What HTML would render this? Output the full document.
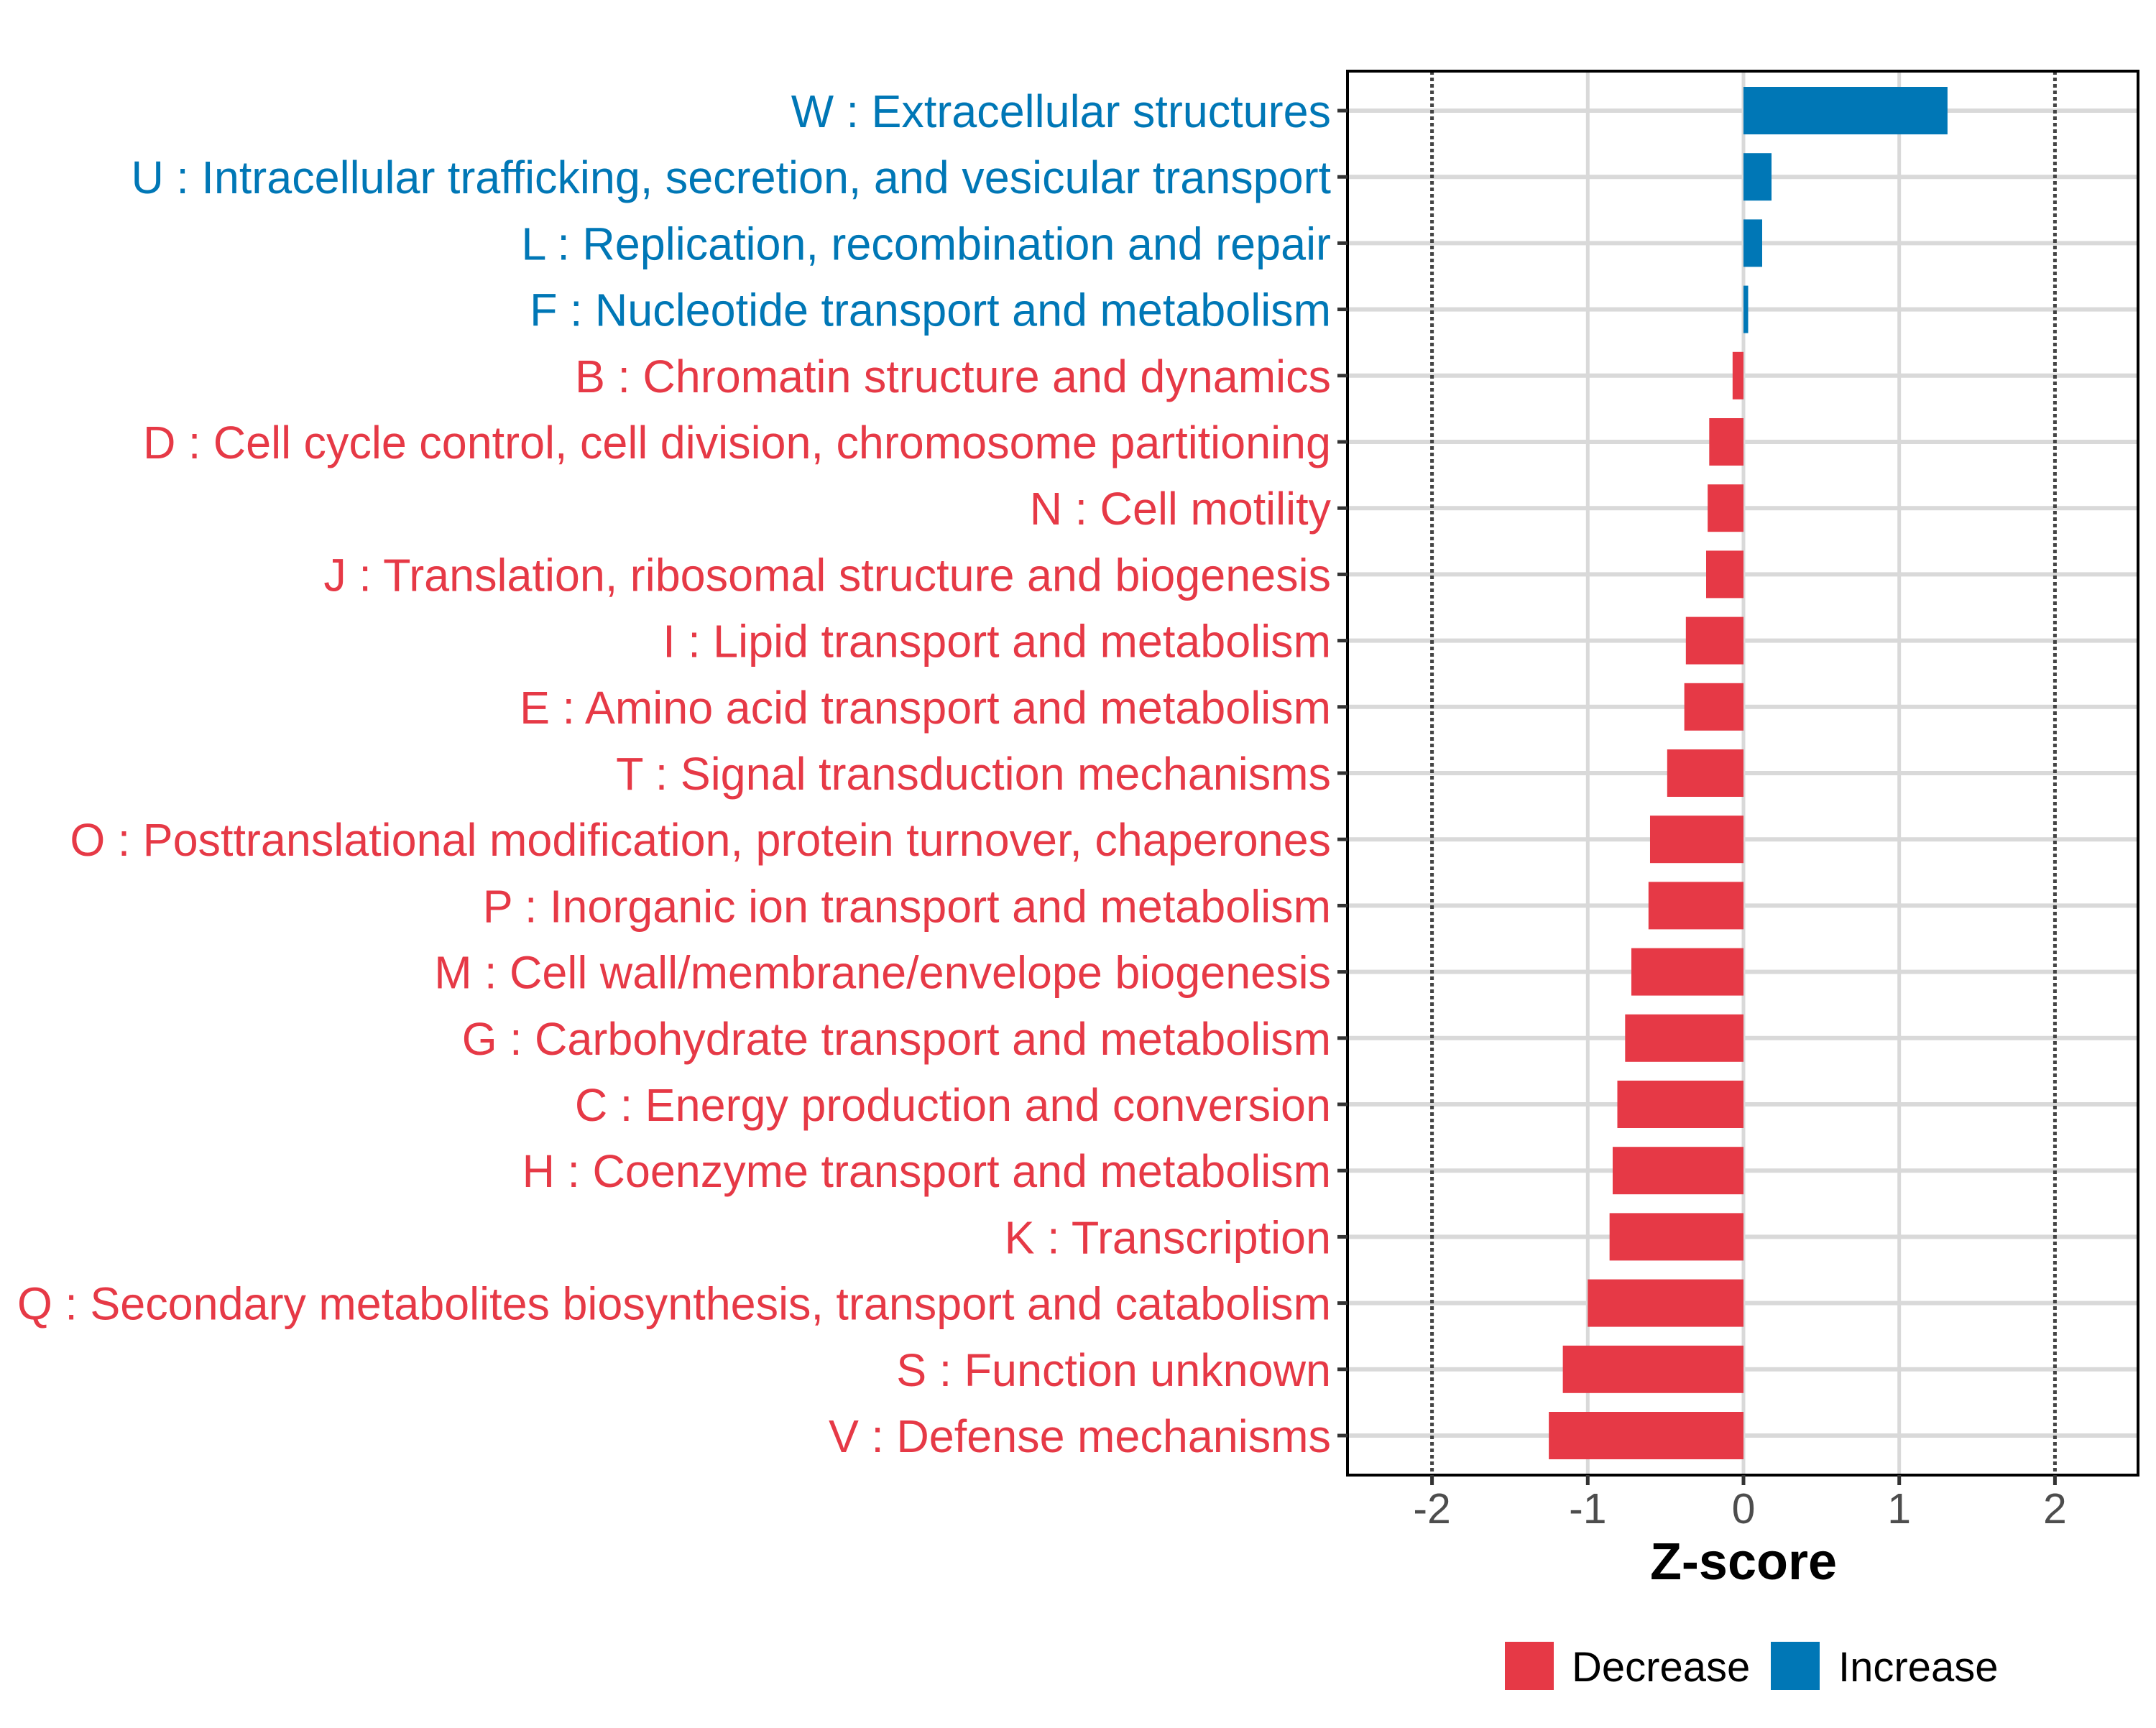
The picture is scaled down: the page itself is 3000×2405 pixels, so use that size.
<!DOCTYPE html>
<html><head><meta charset="utf-8"><style>
html,body{margin:0;padding:0;background:#fff;}
svg text{font-family:"Liberation Sans",Arial,sans-serif;}
</style></head><body>
<svg id="chart" width="3000" height="2400" viewBox="0 0 3000 2400" xmlns="http://www.w3.org/2000/svg">
<rect x="0" y="0" width="3000" height="2400" fill="#fff"/>
<g id="grid"></g><g id="bars"></g><g id="frame"></g><g id="labels"></g><g id="legend"></g>
</svg>
<script>
const categories = ["W : Extracellular structures","U : Intracellular trafficking, secretion, and vesicular transport","L : Replication, recombination and repair","F : Nucleotide transport and metabolism","B : Chromatin structure and dynamics","D : Cell cycle control, cell division, chromosome partitioning","N : Cell motility","J : Translation, ribosomal structure and biogenesis","I : Lipid transport and metabolism","E : Amino acid transport and metabolism","T : Signal transduction mechanisms","O : Posttranslational modification, protein turnover, chaperones","P : Inorganic ion transport and metabolism","M : Cell wall/membrane/envelope biogenesis","G : Carbohydrate transport and metabolism","C : Energy production and conversion","H : Coenzyme transport and metabolism","K : Transcription","Q : Secondary metabolites biosynthesis, transport and catabolism","S : Function unknown","V : Defense mechanisms"];
const zscores = [1.31,0.18,0.12,0.03,-0.07,-0.22,-0.23,-0.24,-0.37,-0.38,-0.49,-0.60,-0.61,-0.72,-0.76,-0.81,-0.84,-0.86,-1.00,-1.16,-1.25];
const xTicks = [-2,-1,0,1,2];
const xTickLabels = ["-2","-1","0","1","2"];
const refLines = [-2,2];
const legendLabels = ["Decrease","Increase"];

const NS="http://www.w3.org/2000/svg";
const RED="#E63946", BLUE="#0077B6";
const PL=1875, PR=2975, PT=99, PB=2053;
const X0=2426, XU=216.7;
function xs(v){return X0+v*XU;}
function ys(i){return 154+i*92.2;}
function mk(tag,attrs,parent){const e=document.createElementNS(NS,tag);for(const k in attrs)e.setAttribute(k,attrs[k]);parent.appendChild(e);return e;}
const grid=document.getElementById('grid'),bars=document.getElementById('bars'),frame=document.getElementById('frame'),labels=document.getElementById('labels'),legend=document.getElementById('legend');

[-1,0,1].forEach(v=>{
  const l=mk('line',{x1:xs(v),x2:xs(v),y1:PT,y2:PB,stroke:'#d9d9d9','stroke-width':5},grid);
  
  
});
categories.forEach((c,i)=>{
  const l=mk('line',{x1:PL,x2:PR,y1:ys(i),y2:ys(i),stroke:'#d9d9d9','stroke-width':6},grid);
  
  
});
refLines.forEach(v=>{
  const l=mk('line',{x1:xs(v),x2:xs(v),y1:PT,y2:PB,stroke:'#444','stroke-width':5,'stroke-dasharray':'5 4'},grid);
  
  
});
zscores.forEach((v,i)=>{
  const x=Math.min(xs(0),xs(v)), w=Math.abs(xs(v)-xs(0));
  const r=mk('rect',{x:x,y:ys(i)-33,width:w,height:66,fill:v>=0?BLUE:RED},bars);
  
  
});
const fr=mk('rect',{x:PL,y:PT,width:PR-PL,height:PB-PT,fill:'none',stroke:'#000','stroke-width':4},frame);


const texts=[];
categories.forEach((c,i)=>{
  const t=mk('line',{x1:PL-14,x2:PL,y1:ys(i),y2:ys(i),stroke:'#333','stroke-width':5},frame);
  
  
  const tx=mk('text',{x:1852,y:ys(i)+23,'text-anchor':'end','font-size':64,fill:zscores[i]>=0?BLUE:RED},labels);
  tx.textContent=c;
  
  
  texts.push(tx);
});
const qi=18, qw=texts[qi].getComputedTextLength(), f=1828/qw;
texts.forEach(t=>{const w=t.getComputedTextLength();t.setAttribute('textLength',w*f);t.setAttribute('lengthAdjust','spacingAndGlyphs');});
xTicks.forEach((v,i)=>{
  const t=mk('line',{x1:xs(v),x2:xs(v),y1:PB,y2:PB+14,stroke:'#333','stroke-width':5},frame);
  
  
  const tx=mk('text',{x:xs(v),y:2120,'text-anchor':'middle','font-size':59,fill:'#4d4d4d'},labels);
  tx.textContent=xTickLabels[i];
  
  
});
const xt=mk('text',{x:X0,y:2198,'text-anchor':'middle','font-size':72,'font-weight':'bold',fill:'#000'},labels);
xt.textContent='Z-score';


const lx=[2094,2464], tx0=[2187,2558];
legendLabels.forEach((s,i)=>{
  const k=mk('rect',{x:lx[i],y:2285,width:68,height:67,fill:i===0?RED:BLUE},legend);
  
  
  const t=mk('text',{x:tx0[i],y:2340,'font-size':58,fill:'#000'},legend);
  t.textContent=s;
  
  
});
</script>
</body></html>
